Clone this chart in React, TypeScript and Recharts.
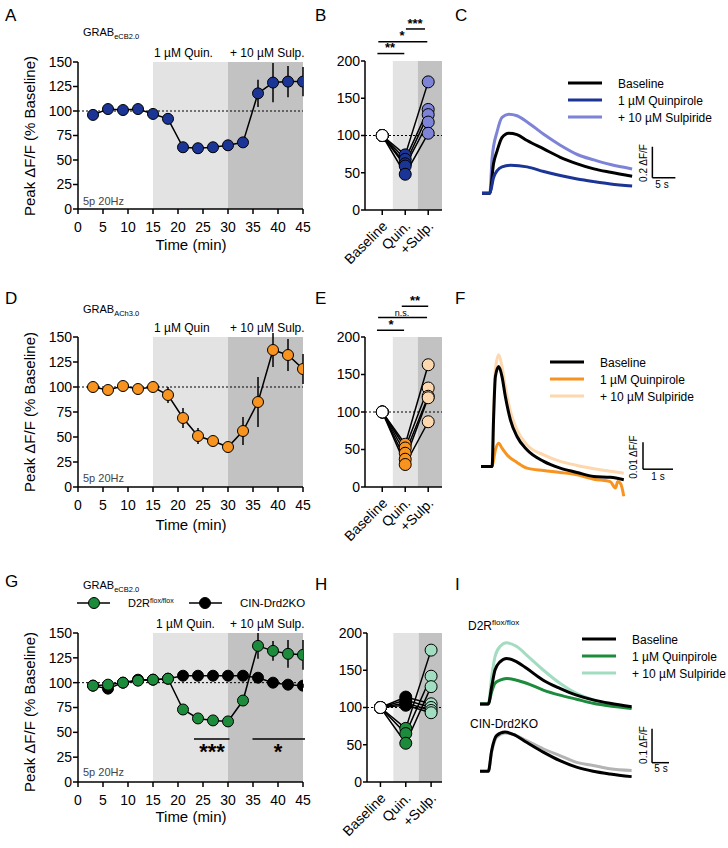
import React from 'react'
import { LineChart, Line, XAxis, YAxis, ReferenceArea, ReferenceLine, ErrorBar } from 'recharts'

const FONT = '"Liberation Sans", Arial, Helvetica, sans-serif'
const NAVY = '#1b3596'
const LAVENDER = '#7d83d6'
const ORANGE = '#f7931e'
const PEACH = '#fdd7ae'
const GREEN = '#1c8b3b'
const MINT = '#a2dcc1'
const KO_GREY = '#b4b4b4'
const SHADE_QUIN = '#e3e3e3'
const SHADE_SULP = '#c2c2c2'

// A, D, G: peak dF/F over time (% baseline)
const timeMin = [3, 6, 9, 12, 15, 18, 21, 24, 27, 30, 33, 36, 39, 42, 45]
const timeTicks = [0, 5, 10, 15, 20, 25, 30, 35, 40, 45]
const pctTicks = [0, 25, 50, 75, 100, 125, 150]

const ecbMean = [96, 102, 101, 102, 97, 92, 63, 62, 63, 65, 68, 118, 129, 130, 130]
const ecbSem = [2, 2, 2, 2, 2, 3, 3, 3, 3, 3, 3, 14, 20, 16, 15]

const achMean = [100, 97, 101, 98, 100, 92, 69, 51, 46, 40, 56, 85, 137, 132, 118]
const achSem = [2, 2, 2, 2, 2, 8, 10, 8, 5, 4, 14, 25, 17, 16, 15]

const floxMean = [97, 98, 100, 102, 103, 104, 73, 64, 62, 61, 82, 137, 132, 129, 128]
const floxSem = [3, 3, 3, 3, 3, 3, 4, 4, 3, 3, 5, 13, 10, 14, 15]
const koMean = [97, 94, 100, 103, 103, 104, 107, 107, 107, 107, 107, 105, 100, 98, 97]
const koSem = [2, 2, 2, 2, 2, 2, 2, 2, 2, 2, 2, 2, 2, 2, 2]

// B, E, H: per slice, baseline = 100
const pairLabels = ['Baseline', 'Quin.', '+Sulp.']
const pairTicks = [0, 50, 100, 150, 200]
const ecbQuin = [74, 68, 62, 59, 48]
const ecbSulp = [172, 135, 128, 118, 103]
const achQuin = [57, 52, 45, 37, 30]
const achSulp = [163, 132, 121, 119, 87]
const floxQuin = [72, 65, 52]
const floxSulp = [177, 142, 128]
const koQuin = [114, 110, 106, 103]
const koSulp = [105, 100, 96, 93]

// C: eCB traces (s, dF/F)
const cBaseT = [0, 1.7, 2.5, 3.3, 4.35, 5.8, 7.6, 9.8, 13.4, 17.0, 20.7, 24.3, 27.9, 32.6]
const cBaseV = [0, 0, 0.19, 0.275, 0.36, 0.387, 0.378, 0.34, 0.286, 0.232, 0.19, 0.157, 0.135, 0.11]
const cQuinT = [0, 1.7, 2.5, 3.3, 4.35, 6.2, 9.8, 13.4, 17.0, 20.7, 24.3, 27.9, 32.6]
const cQuinV = [0, 0, 0.1, 0.146, 0.17, 0.18, 0.17, 0.14, 0.114, 0.092, 0.075, 0.06, 0.047]
const cSulpT = [0, 1.7, 2.2, 3.3, 4.35, 5.8, 7.6, 9.8, 13.4, 17.0, 20.7, 24.3, 27.9, 32.6]
const cSulpV = [0, 0, 0.23, 0.4, 0.49, 0.51, 0.5, 0.46, 0.38, 0.31, 0.25, 0.215, 0.185, 0.157]

// F: ACh traces
const fBaseT = [0, 0.37, 0.42, 0.48, 0.59, 0.7, 0.81, 0.98, 1.2, 1.53, 2.09, 2.64, 3.2, 3.76, 4.31, 4.76]
const fBaseV = [0, 0, 0.018, 0.0333, 0.037, 0.0333, 0.026, 0.0173, 0.0111, 0.0062, 0.0019, -0.0006, -0.0022, -0.0037, -0.004, -0.0049]
const fQuinT = [0, 0.37, 0.48, 0.59, 0.7, 0.87, 1.2, 1.53, 2.09, 2.64, 3.2, 3.76, 4.31, 4.48, 4.56, 4.66, 4.76]
const fQuinV = [0, 0, 0.0062, 0.0086, 0.0068, 0.0043, 0.0015, -0.0006, -0.0015, -0.0022, -0.0031, -0.0047, -0.0056, -0.008, -0.0056, -0.0065, -0.011]
const fSulpT = [0, 0.37, 0.42, 0.48, 0.59, 0.7, 0.81, 0.98, 1.2, 1.53, 2.09, 2.64, 3.2, 3.76, 4.31, 4.76]
const fSulpV = [0, 0, 0.02, 0.036, 0.0414, 0.037, 0.0296, 0.0204, 0.0136, 0.008, 0.0043, 0.0019, 0.0004, -0.0008, -0.0018, -0.0025]

// I: eCB traces, D2R flox/flox (top) and CIN-Drd2KO (bottom)
const iTopT = [0, 2.45, 3.43, 4.41, 5.88, 7.84, 10.8, 13.7, 18.6, 23.5, 28.4, 33.3, 38.2, 44.6]
const iFloxBase = [0, 0, 0.051, 0.1, 0.124, 0.134, 0.124, 0.105, 0.07, 0.046, 0.026, 0.012, 0.002, -0.008]
const iFloxQuin = [0, 0, 0.036, 0.061, 0.07, 0.075, 0.07, 0.061, 0.041, 0.026, 0.014, 0.002, -0.006, -0.013]
const iFloxSulp = [0, 0, 0.08, 0.139, 0.169, 0.18, 0.169, 0.144, 0.1, 0.061, 0.031, 0.012, 0, -0.01]
const iBotT = [0, 2.45, 3.43, 4.9, 7.35, 9.8, 13.7, 18.6, 23.5, 28.4, 33.3, 38.2, 44.6]
const iKoBase = [0, 0, 0.061, 0.105, 0.115, 0.108, 0.085, 0.056, 0.031, 0.012, 0, -0.008, -0.016]
const iKoDrug = [0, 0, 0.056, 0.1, 0.112, 0.108, 0.09, 0.066, 0.046, 0.026, 0.017, 0.007, 0.002]

const axisLine = { stroke: '#000', strokeWidth: 1.5 }
const tickFont = { fill: '#000', fontSize: 14, fontFamily: FONT }

type Series = { mean: number[]; sem: number[]; fill: string }
type Seg = { x1: number; x2: number; y: number }

function TimeCourse({ plotTop, plotH, series, sig = [] }: { plotTop: number; plotH: number; series: Series[]; sig?: Seg[] }) {
  const data = timeMin.map((t, i) => {
    const row: any = { t }
    series.forEach((s, k) => {
      row['m' + k] = s.mean[i]
      row['e' + k] = s.sem[i]
    })
    return row
  })
  return (
    <div style={{ position: 'absolute', left: 0, top: plotTop - 20 }}>
      <LineChart width={320} height={plotH + 65} data={data} margin={{ top: 20, right: 17, bottom: 0, left: 0 }}>
        <ReferenceArea x1={15} x2={30} y1={0} y2={150} fill={SHADE_QUIN} fillOpacity={1} stroke="none" />
        <ReferenceArea x1={30} x2={45} y1={0} y2={150} fill={SHADE_SULP} fillOpacity={1} stroke="none" />
        <ReferenceLine y={100} stroke="#000" strokeWidth={1} strokeDasharray="2 2" />
        <XAxis type="number" dataKey="t" domain={[0, 45]} ticks={timeTicks} interval={0} allowDataOverflow
          height={45} axisLine={axisLine} tickLine={axisLine} tickSize={5} tickMargin={8} tick={tickFont} />
        <YAxis type="number" domain={[0, 150]} ticks={pctTicks} interval={0} allowDataOverflow
          width={78} axisLine={axisLine} tickLine={axisLine} tickSize={5} tickMargin={1} tick={tickFont} />
        {series.map((s, k) => (
          <Line key={k} type="linear" dataKey={'m' + k} stroke="#000" strokeWidth={1.5} activeDot={false}
            dot={{ r: 5.5, fill: s.fill, stroke: '#000', strokeWidth: 1 }} isAnimationActive={false}>
            <ErrorBar dataKey={'e' + k} width={0} stroke="#000" strokeWidth={1.5} direction="y" />
          </Line>
        ))}
        {sig.map((s, i) => (
          <ReferenceLine key={'s' + i} segment={[{ x: s.x1, y: s.y }, { x: s.x2, y: s.y }]} stroke="#000" strokeWidth={1.5} ifOverflow="visible" />
        ))}
      </LineChart>
    </div>
  )
}

function PairTick(props: any) {
  const { x, y, payload } = props
  return (
    <text transform={`translate(${x + 6},${y + 10}) rotate(-45)`} textAnchor="end" fontSize={14} fontFamily={FONT} fill="#000">
      {pairLabels[payload.value]}
    </text>
  )
}

const pairDot = (mid: string, late: string) => (p: any) => {
  const { cx, cy, index } = p
  const fill = index === 0 ? '#fff' : index === 1 ? mid : late
  return <circle key={'c' + index} cx={cx} cy={cy} r={6} fill={fill} stroke="#000" strokeWidth={1} />
}

type Group = { quin: number[]; sulp: number[]; mid: string; late: string }

function PairPanel({ plotTop, plotH, yWidth, domain, shade, groups, sig }: {
  plotTop: number; plotH: number; yWidth: number; domain: [number, number]; shade: number[]; groups: Group[]; sig: Seg[]
}) {
  const animals = groups.flatMap(g => g.quin.map((q, i) => ({
    rows: [{ x: 0, v: 100 }, { x: 1, v: q }, { x: 2, v: g.sulp[i] }], mid: g.mid, late: g.late,
  })))
  return (
    <div style={{ position: 'absolute', left: 320, top: plotTop - 45 }}>
      <LineChart width={125} height={plotH + 105} margin={{ top: 45, right: 3, bottom: 0, left: 0 }}>
        <ReferenceArea x1={shade[0]} x2={shade[1]} y1={0} y2={200} fill={SHADE_QUIN} fillOpacity={1} stroke="none" />
        <ReferenceArea x1={shade[1]} x2={shade[2]} y1={0} y2={200} fill={SHADE_SULP} fillOpacity={1} stroke="none" />
        <ReferenceLine y={100} stroke="#000" strokeWidth={1} strokeDasharray="2 2" />
        <XAxis type="number" dataKey="x" domain={domain} ticks={[0, 1, 2]} interval={0} allowDataOverflow
          height={60} axisLine={axisLine} tickLine={axisLine} tickSize={5} tickMargin={2} tick={<PairTick />} />
        <YAxis type="number" domain={[0, 200]} ticks={pairTicks} interval={0} allowDataOverflow
          width={yWidth} axisLine={axisLine} tickLine={axisLine} tickSize={4} tickMargin={1} tick={tickFont} />
        {animals.map((a, i) => (
          <Line key={'l' + i} data={a.rows} dataKey="v" type="linear" stroke="#000" strokeWidth={1.5}
            dot={false} activeDot={false} isAnimationActive={false} />
        ))}
        {animals.map((a, i) => (
          <Line key={'d' + i} data={a.rows} dataKey="v" type="linear" stroke="none"
            dot={pairDot(a.mid, a.late)} activeDot={false} isAnimationActive={false} />
        ))}
        {sig.map((s, i) => (
          <ReferenceLine key={'s' + i} segment={[{ x: s.x1, y: s.y }, { x: s.x2, y: s.y }]} stroke="#000" strokeWidth={1.5} ifOverflow="visible" />
        ))}
      </LineChart>
    </div>
  )
}

type Trace = { t: number[]; v: number[]; color: string }
type Bar = { x: number; y: number; dx: number; dy: number }

function TracePanel({ left, top, width, height, xMax, yMin, yMax, traces, bar }: {
  left: number; top: number; width: number; height: number; xMax: number; yMin: number; yMax: number; traces: Trace[]; bar?: Bar
}) {
  return (
    <div style={{ position: 'absolute', left, top }}>
      <LineChart width={width} height={height} margin={{ top: 0, right: 0, bottom: 0, left: 0 }}>
        <XAxis type="number" dataKey="t" hide domain={[0, xMax]} allowDataOverflow />
        <YAxis type="number" hide domain={[yMin, yMax]} allowDataOverflow />
        {traces.map((tr, i) => (
          <Line key={i} data={tr.t.map((t, j) => ({ t, v: tr.v[j] }))} dataKey="v" type="monotone"
            stroke={tr.color} strokeWidth={3} dot={false} activeDot={false} isAnimationActive={false} />
        ))}
        {bar && (
          <ReferenceLine segment={[{ x: bar.x, y: bar.y + bar.dy }, { x: bar.x, y: bar.y }]} stroke="#000" strokeWidth={1.5} ifOverflow="visible" />
        )}
        {bar && (
          <ReferenceLine segment={[{ x: bar.x, y: bar.y }, { x: bar.x + bar.dx, y: bar.y }]} stroke="#000" strokeWidth={1.5} ifOverflow="visible" />
        )}
      </LineChart>
    </div>
  )
}

const legendNames = ['Baseline', '1 µM Quinpirole', '+ 10 µM Sulpiride']

function TraceLegend({ x, y, colors }: { x: number; y: number; colors: string[] }) {
  return (
    <g>
      {colors.map((c, i) => (
        <g key={i}>
          <line x1={x} x2={x + 34} y1={y + i * 17} y2={y + i * 17} stroke={c} strokeWidth={3} />
          <text x={x + 50} y={y + i * 17 + 4.5} fontSize={12}>{legendNames[i]}</text>
        </g>
      ))}
    </g>
  )
}

function Stars({ x, y, s, size }: { x: number; y: number; s: string; size: number }) {
  return <text x={x} y={y} fontSize={size} fontWeight="bold" textAnchor="middle">{s}</text>
}

function Overlay() {
  const letters: [string, number, number][] = [
    ['A', 5, 21], ['B', 315, 21], ['C', 455, 21],
    ['D', 5, 304], ['E', 315, 304], ['F', 455, 304],
    ['G', 5, 587], ['H', 315, 590], ['I', 455, 590],
  ]
  const yLabelCenters = [136, 412, 712]
  const timeLabelY = [250, 530, 822]
  return (
    <svg width={728} height={848} style={{ position: 'absolute', left: 0, top: 0, pointerEvents: 'none' }} fontFamily={FONT} fill="#000">
      {letters.map(([l, x, y]) => (
        <text key={l} x={x} y={y} fontSize={17}>{l}</text>
      ))}
      {yLabelCenters.map((cy, i) => (
        <text key={'yl' + i} transform={`translate(29,${cy}) rotate(-90)`} textAnchor="middle" dominantBaseline="central" fontSize={15}>
          Peak ΔF/F (% Baseline)
        </text>
      ))}
      {timeLabelY.map((y, i) => (
        <text key={'tl' + i} x={191} y={y} textAnchor="middle" fontSize={15}>Time (min)</text>
      ))}

      {/* A */}
      <text x={83} y={36} fontSize={11}>GRAB<tspan fontSize={7.5} dy={2.5}>eCB2.0</tspan></text>
      <text x={154} y={57} fontSize={12}>1 µM Quin.</text>
      <text x={230} y={57} fontSize={12}>+ 10 µM Sulp.</text>
      <text x={83} y={205} fontSize={11} fill="#444">5p 20Hz</text>

      {/* B */}
      <Stars x={390} y={52} s="**" size={13} />
      <Stars x={402} y={40} s="*" size={13} />
      <Stars x={415} y={28} s="***" size={13} />

      {/* C */}
      <TraceLegend x={568} y={83} colors={['#000', NAVY, LAVENDER]} />
      <text transform="translate(647,163) rotate(-90)" textAnchor="middle" fontSize={10}>0.2 ΔF/F</text>
      <text x={662} y={188} textAnchor="middle" fontSize={10}>5 s</text>

      {/* D */}
      <text x={83} y={313} fontSize={11}>GRAB<tspan fontSize={7.5} dy={2.5}>ACh3.0</tspan></text>
      <text x={154} y={331.5} fontSize={12}>1 µM Quin</text>
      <text x={230} y={331.5} fontSize={12}>+ 10 µM Sulp.</text>
      <text x={83} y={481.5} fontSize={11} fill="#444">5p 20Hz</text>

      {/* E */}
      <Stars x={391} y={329} s="*" size={13} />
      <text x={402} y={315.5} textAnchor="middle" fontSize={9}>n.s.</text>
      <Stars x={415} y={305} s="**" size={13} />

      {/* F */}
      <TraceLegend x={550} y={362} colors={['#000', ORANGE, PEACH]} />
      <text transform="translate(637,457) rotate(-90)" textAnchor="middle" fontSize={10}>0.01 ΔF/F</text>
      <text x={658} y={480} textAnchor="middle" fontSize={10}>1 s</text>

      {/* G */}
      <text x={83} y={589} fontSize={11}>GRAB<tspan fontSize={7.5} dy={2.5}>eCB2.0</tspan></text>
      <line x1={77} x2={110} y1={603} y2={603} stroke="#000" strokeWidth={1.5} />
      <circle cx={94} cy={603} r={5.5} fill={GREEN} stroke="#000" strokeWidth={1} />
      <text x={128} y={606.5} fontSize={11}>D2R<tspan fontSize={7} dy={-4}>flox/flox</tspan></text>
      <line x1={189} x2={222} y1={603} y2={603} stroke="#000" strokeWidth={1.5} />
      <circle cx={205} cy={603} r={5.5} fill="#000" stroke="#000" strokeWidth={1} />
      <text x={240} y={606.5} fontSize={11.5}>CIN-Drd2KO</text>
      <text x={156} y={628} fontSize={12}>1 µM Quin.</text>
      <text x={230} y={628} fontSize={12}>+ 10 µM Sulp.</text>
      <Stars x={212} y={759} s="***" size={22} />
      <Stars x={278} y={759} s="*" size={22} />
      <text x={83} y={776} fontSize={11} fill="#444">5p 20Hz</text>

      {/* I */}
      <text x={468} y={630} fontSize={12}>D2R<tspan fontSize={8} dy={-5}>flox/flox</tspan></text>
      <TraceLegend x={582} y={639} colors={['#000', GREEN, MINT]} />
      <text x={470} y={728} fontSize={12}>CIN-Drd2KO</text>
      <text transform="translate(647,745) rotate(-90)" textAnchor="middle" fontSize={10}>0.1 ΔF/F</text>
      <text x={661} y={772} textAnchor="middle" fontSize={10}>5 s</text>
    </svg>
  )
}

export default function App() {
  return (
    <div style={{ position: 'absolute', left: 0, top: 0, width: 728, height: 848, background: '#fff', fontFamily: FONT, overflow: 'hidden' }}>
      <TimeCourse plotTop={62} plotH={147} series={[{ mean: ecbMean, sem: ecbSem, fill: NAVY }]} />
      <TimeCourse plotTop={337} plotH={150} series={[{ mean: achMean, sem: achSem, fill: ORANGE }]} />
      <TimeCourse plotTop={633} plotH={149}
        series={[{ mean: koMean, sem: koSem, fill: '#000' }, { mean: floxMean, sem: floxSem, fill: GREEN }]}
        sig={[{ x1: 23.2, x2: 30.3, y: 43.3 }, { x1: 34.9, x2: 45.4, y: 43.3 }]} />

      <PairPanel plotTop={61} plotH={149} yWidth={45} domain={[-0.75, 2.6]} shade={[0.46, 1.55, 2.6]}
        groups={[{ quin: ecbQuin, sulp: ecbSulp, mid: NAVY, late: LAVENDER }]}
        sig={[{ x1: -0.21, x2: 0.96, y: 210 }, { x1: -0.17, x2: 1.96, y: 226 }, { x1: 1.03, x2: 1.86, y: 243 }]} />
      <PairPanel plotTop={337} plotH={150} yWidth={45} domain={[-0.75, 2.6]} shade={[0.46, 1.55, 2.6]}
        groups={[{ quin: achQuin, sulp: achSulp, mid: ORANGE, late: PEACH }]}
        sig={[{ x1: -0.23, x2: 0.95, y: 209 }, { x1: -0.18, x2: 1.95, y: 226 }, { x1: 0.85, x2: 2.0, y: 241 }]} />
      <PairPanel plotTop={633} plotH={149} yWidth={47} domain={[-0.53, 2.43]} shade={[0.51, 1.51, 2.43]}
        groups={[{ quin: koQuin, sulp: koSulp, mid: '#000', late: MINT }, { quin: floxQuin, sulp: floxSulp, mid: GREEN, late: MINT }]}
        sig={[]} />

      <TracePanel left={482} top={107.75} width={198} height={93} xMax={43} yMin={-0.05} yMax={0.55}
        traces={[
          { t: cSulpT, v: cSulpV, color: LAVENDER },
          { t: cBaseT, v: cBaseV, color: '#000' },
          { t: cQuinT, v: cQuinV, color: NAVY },
        ]}
        bar={{ x: 37, y: 0.1, dx: 5, dy: 0.2 }} />
      <TracePanel left={481} top={345.2} width={198} height={156.6} xMax={6.6} yMin={-0.013} yMax={0.045}
        traces={[
          { t: fSulpT, v: fSulpV, color: PEACH },
          { t: fQuinT, v: fQuinV, color: ORANGE },
          { t: fBaseT, v: fBaseV, color: '#000' },
        ]}
        bar={{ x: 5.4, y: -0.001, dx: 1, dy: 0.01 }} />
      <TracePanel left={480} top={636} width={193.8} height={78.2} xMax={57} yMin={-0.03} yMax={0.2}
        traces={[
          { t: iTopT, v: iFloxSulp, color: MINT },
          { t: iTopT, v: iFloxQuin, color: GREEN },
          { t: iTopT, v: iFloxBase, color: '#000' },
        ]} />
      <TracePanel left={480} top={726.5} width={193.8} height={54.4} xMax={57} yMin={-0.03} yMax={0.13}
        traces={[
          { t: iBotT, v: iKoDrug, color: KO_GREY },
          { t: iBotT, v: iKoBase, color: '#000' },
        ]}
        bar={{ x: 50.6, y: 0.025, dx: 5, dy: 0.1 }} />

      <Overlay />
    </div>
  )
}
